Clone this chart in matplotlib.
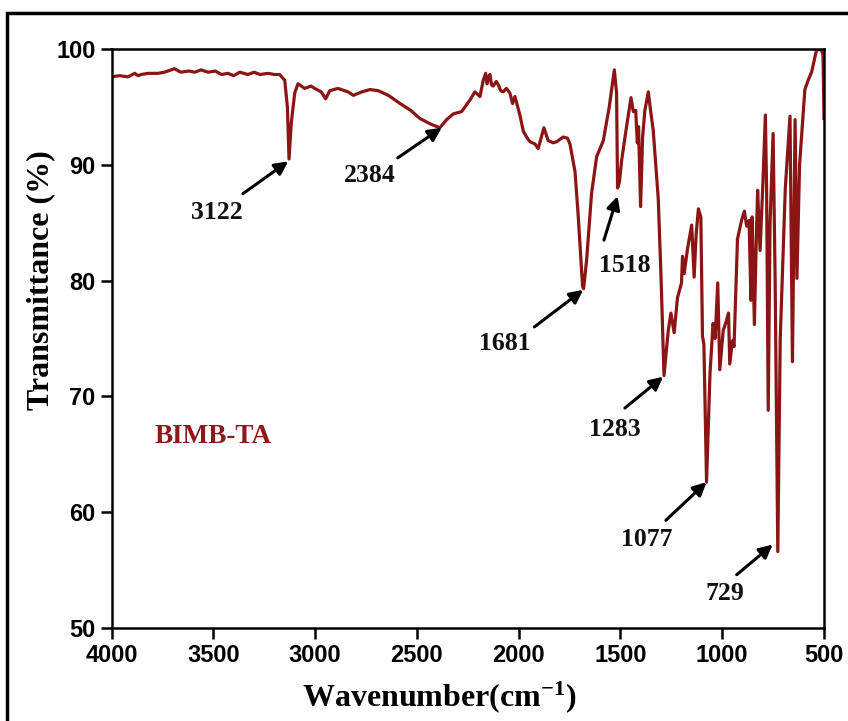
import matplotlib
matplotlib.use("Agg")
import matplotlib.pyplot as plt
from matplotlib.patches import Rectangle

plt.rcParams['mathtext.fontset'] = 'custom'
plt.rcParams['mathtext.rm'] = 'Liberation Serif:bold'
plt.rcParams['mathtext.bf'] = 'Liberation Serif:bold'
plt.rcParams['mathtext.default'] = 'bf'

# spectrum (wavenumber, transmittance)
wavenumber = [4000, 3960, 3919, 3886, 3870, 3854, 3820, 3772, 3740, 3690,
              3660, 3620, 3591, 3560, 3526, 3490, 3460, 3428, 3400, 3370,
              3330, 3300, 3270, 3231, 3200, 3174, 3149, 3136, 3128, 3117,
              3100, 3084, 3051, 3020, 3002, 2970, 2948, 2928, 2888, 2838,
              2812, 2770, 2730, 2690, 2640, 2583, 2530, 2485, 2430, 2387,
              2354, 2321, 2280, 2239, 2215, 2190, 2174, 2162, 2155, 2149,
              2141, 2133, 2125, 2110, 2100, 2088, 2076, 2060, 2043, 2030,
              2018, 1994, 1977, 1961, 1945, 1920, 1904, 1876, 1855, 1830,
              1813, 1781, 1760, 1748, 1723, 1707, 1686, 1681, 1666, 1642,
              1617, 1584, 1555, 1530, 1519, 1514, 1505, 1494, 1470, 1448,
              1437, 1425, 1417, 1411, 1401, 1391, 1380, 1363, 1352, 1339,
              1314, 1300, 1286, 1265, 1252, 1236, 1220, 1200, 1195, 1187,
              1170, 1150, 1138, 1128, 1117, 1105, 1097, 1090, 1077, 1060,
              1045, 1035, 1022, 1012, 995, 980, 969, 963, 950, 942,
              925, 905, 891, 880, 868, 859, 853, 842, 832, 826,
              814, 800, 788, 782, 774, 765, 750, 740, 727, 715,
              690, 667, 655, 642, 633, 620, 594, 578, 561, 537,
              515, 505, 500]
transmittance = [97.6, 97.7, 97.6, 97.9, 97.7, 97.8, 97.9, 97.9, 98.0, 98.3,
                 98.0, 98.1, 98.0, 98.2, 98.0, 98.1, 97.8, 97.9, 97.7, 98.0,
                 97.8, 98.0, 97.8, 97.9, 97.8, 97.8, 97.3, 95.0, 90.5, 93.6,
                 96.2, 97.0, 96.6, 96.8, 96.6, 96.3, 95.7, 96.4, 96.6, 96.3,
                 96.0, 96.3, 96.5, 96.4, 96.0, 95.3, 94.7, 94.0, 93.5, 93.2,
                 93.9, 94.4, 94.6, 95.6, 96.3, 95.9, 97.3, 97.9, 97.0, 97.5,
                 97.8, 96.9, 96.8, 97.2, 96.9, 96.4, 96.3, 96.6, 96.2, 95.3,
                 95.9, 94.3, 92.9, 92.4, 92.0, 91.8, 91.4, 93.2, 92.1, 91.9,
                 92.0, 92.4, 92.3, 91.8, 89.4, 85.5, 79.5, 79.3, 81.8, 87.5,
                 90.7, 92.1, 95.0, 98.2, 96.2, 88.0, 88.5, 90.4, 93.3, 95.8,
                 94.6, 94.7, 91.9, 93.3, 86.4, 92.4, 94.7, 96.3, 94.7, 93.0,
                 87.0, 80.0, 71.8, 75.7, 77.2, 75.5, 78.5, 79.8, 82.1, 80.6,
                 82.8, 84.8, 80.3, 84.0, 86.2, 85.5, 75.2, 74.5, 62.6, 72.0,
                 76.3, 75.0, 79.8, 72.3, 75.7, 76.5, 77.2, 72.8, 74.8, 74.3,
                 83.6, 85.2, 86.0, 84.7, 85.2, 78.3, 85.5, 76.2, 84.0, 87.8,
                 82.6, 88.5, 94.3, 88.0, 68.8, 85.0, 92.7, 80.0, 56.6, 75.0,
                 88.0, 94.2, 73.0, 93.9, 80.2, 90.0, 96.5, 97.3, 98.0, 99.9,
                 100.0, 99.5, 94.0]

peak_labels = ['3122', '2384', '1681', '1518', '1283', '1077', '729']
label_xy = [(3483, 85.9), (2730, 89.1), (2067, 74.6), (1478, 81.3),
            (1527, 67.1), (1371, 57.6), (987, 53.0)]
arrow_tail = [(3355, 87.5), (2594, 90.6), (1923, 76.0), (1581, 83.5),
              (1478, 69.0), (1277, 59.3), (929, 54.6)]
arrow_tip = [(3132, 90.3), (2378, 93.2), (1683, 79.2), (1514, 87.3),
             (1290, 71.7), (1077, 62.6), (752, 57.2)]

line_color = '#8b1414'

fig = plt.figure(figsize=(8.48, 7.21), dpi=100)
ax = fig.add_axes([0.1315, 0.129, 0.8402, 0.803])

ax.plot(wavenumber, transmittance, color=line_color, lw=2.3)

for lab, pos, tail, tip in zip(peak_labels, label_xy, arrow_tail, arrow_tip):
    ax.text(pos[0], pos[1], lab, ha='center', va='center', fontsize=18.5,
            fontweight='bold', family='Liberation Serif', color='#111111')
    ax.annotate('', xy=tip, xytext=tail,
                arrowprops=dict(arrowstyle='-|>', color='black', lw=2.2,
                                mutation_scale=20, shrinkA=0, shrinkB=0))

ax.text(3502, 66.5, 'BIMB-TA', ha='center', va='center', fontsize=19.5,
        fontweight='bold', family='Liberation Serif', color='#8b1a1a')

ax.set_xlim(4000, 500)
ax.set_ylim(50, 100)
ax.set_xticks([4000, 3500, 3000, 2500, 2000, 1500, 1000, 500])
ax.set_yticks([50, 60, 70, 80, 90, 100])
ax.tick_params(direction='out', length=8, width=1.8, labelsize=17,
               top=False, right=False)
for lbl in ax.get_xticklabels() + ax.get_yticklabels():
    lbl.set_family('Liberation Sans')
    lbl.set_fontweight('bold')
for sp in ax.spines.values():
    sp.set_linewidth(1.8)

ax.set_xlabel('Wavenumber(cm$^{-1}$)', fontsize=23, fontweight='bold',
              family='Liberation Serif', va='center')
ax.set_ylabel('Transmittance (%)', fontsize=23, fontweight='bold',
              family='Liberation Serif', va='center')
ax.xaxis.set_label_coords(0.46, -0.119)
ax.yaxis.set_label_coords(-0.1, 0.6)

# outer frame, open to the right and bottom like the cropped source
fig.add_artist(Rectangle((7 / 848, -0.2), 1.2, 1.2 - 13 / 721,
                         transform=fig.transFigure, fill=False,
                         edgecolor='black', lw=2.5, clip_on=False))

fig.savefig('out.png', dpi=100)
